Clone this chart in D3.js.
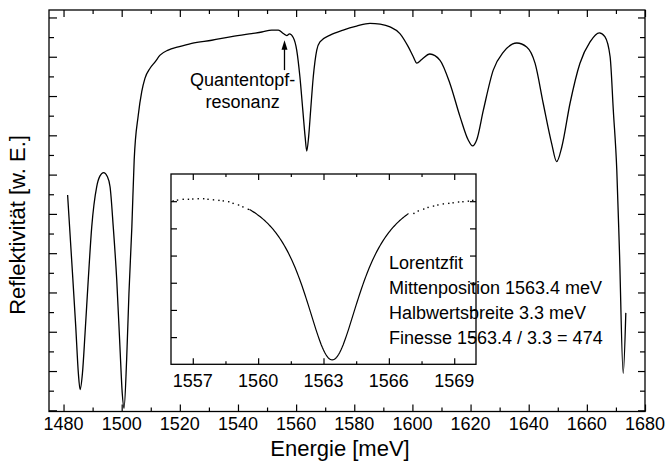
<!DOCTYPE html>
<html>
<head>
<meta charset="utf-8">
<script src="https://cdn.jsdelivr.net/npm/d3@7"></script>
<style>
  html, body { margin: 0; padding: 0; background: #fff; }
  svg { display: block; }
  text { font-family: "Liberation Sans", Arial, Helvetica, sans-serif; fill: #000; }
</style>
</head>
<body>
<svg id="chart" width="669" height="468"></svg>
<script>
// Reflectivity spectrum of the microcavity sample (arbitrary units)
const energy = [1481.4, 1482.8, 1484.2, 1485.1, 1485.7, 1486.5, 1487.4, 1488.5, 1489.7, 1491.4,
  1492.5, 1493.8, 1495.0, 1496.0, 1497.1, 1498.3, 1499.4, 1500.2, 1500.8, 1501.7,
  1502.5, 1503.5, 1504.3, 1505.7, 1506.9, 1508.0, 1509.7, 1511.5, 1513.2, 1516.0,
  1519.5, 1524.1, 1531.0, 1537.8, 1544.7, 1548.2, 1551.6, 1553.9, 1555.6, 1556.8,
  1557.7, 1559.0, 1560.2, 1561.3, 1562.3, 1563.1, 1563.65, 1564.3, 1565.0, 1565.9,
  1567.1, 1568.2, 1571.7, 1576.2, 1580.8, 1585.4, 1588.9, 1592.3, 1595.7, 1598.6,
  1600.3, 1601.5, 1603.2, 1606.0, 1609.5, 1612.9, 1616.4, 1619.2, 1620.7, 1622.1,
  1624.4, 1627.8, 1631.3, 1635.9, 1639.3, 1642.2, 1645.0, 1647.9, 1649.6, 1651.4,
  1654.2, 1657.6, 1661.1, 1664.3, 1666.2, 1668.0, 1669.1, 1670.3, 1671.2, 1672.5, 1673.4];
const reflectivity = [5.48, 3.82, 2.13, 0.94, 0.53, 0.94, 1.96, 3.32, 4.67, 5.69,
  5.96, 6.05, 5.96, 5.69, 4.67, 3.32, 1.62, 0.43, 0.05, 1.28,
  2.98, 4.67, 6.37, 7.51, 8.11, 8.45, 8.70, 8.87, 9.04, 9.17,
  9.25, 9.34, 9.42, 9.51, 9.59, 9.63, 9.68, 9.68, 9.59, 9.54,
  9.58, 9.49, 9.17, 8.49, 7.64, 6.96, 6.60, 6.96, 7.64, 8.49,
  9.17, 9.38, 9.55, 9.68, 9.78, 9.85, 9.83, 9.76, 9.59, 9.25,
  9.00, 8.84, 8.93, 9.07, 8.91, 8.32, 7.47, 6.88, 6.73, 6.88,
  7.64, 8.66, 9.12, 9.35, 9.25, 8.83, 7.81, 6.79, 6.33, 6.71,
  7.81, 8.83, 9.38, 9.61, 9.51, 9.00, 7.64, 6.11, 4.08, 0.94, 2.48];

// Axis ticks of the main panel
const xMajorTicks = [1480, 1500, 1520, 1540, 1560, 1580, 1600, 1620, 1640, 1660, 1680];
const xMinorTicks = [1490, 1510, 1530, 1550, 1570, 1590, 1610, 1630, 1650, 1670];
const yMajorTicks = [0, 1, 2, 3, 4, 5, 6, 7, 8, 9, 10];
const yMinorTicks = [0.5, 1.5, 2.5, 3.5, 4.5, 5.5, 6.5, 7.5, 8.5, 9.5];

// Measured points around the cavity mode (inset), outside the fit window
const insetEnergy = [1556.1, 1556.3, 1556.56, 1556.8, 1557.0, 1557.25, 1557.5, 1557.7, 1557.95, 1558.2,
  1558.4, 1558.65, 1558.85, 1559.1, 1559.3, 1559.55,
  1567.15, 1567.35, 1567.6, 1567.8, 1568.05, 1568.25, 1568.5, 1568.75, 1568.95, 1569.2,
  1569.4, 1569.65, 1569.85];
const insetReflectivity = [6.01, 6.04, 6.07, 6.07, 6.08, 6.09, 6.09, 6.07, 6.05, 6.03,
  6.01, 5.98, 5.92, 5.86, 5.79, 5.70,
  5.55, 5.64, 5.71, 5.77, 5.82, 5.86, 5.90, 5.92, 5.94, 5.97,
  5.98, 6.00, 6.03];
const insetMajorTicks = [1557, 1560, 1563, 1566, 1569];
const insetMinorTicks = [1558.5, 1561.5, 1564.5, 1567.5];
const insetYTicks = [1, 2, 3, 4, 5, 6];

// Lorentz fit of the cavity dip
const fitCenter = 1563.4;     // meV
const fitFwhm = 3.3;          // meV
const fitBaseline = 6.74;
const fitDepth = 6.58;
const fitRange = [1559.6, 1566.9];

const svg = d3.select("#chart");

// ---------- main panel ----------
const x = d3.scaleLinear().domain([1475, 1680]).range([49, 645]);
const y = d3.scaleLinear().domain([-0.03, 10.19]).range([411.5, 10]);
const plotTop = y.range()[1], plotBottom = y.range()[0];
const plotLeft = x.range()[0], plotRight = x.range()[1];

function tickAxis(g, axisFn, scale, values, size) {
  g.call(axisFn(scale).tickValues(values).tickSize(-size).tickSizeOuter(0).tickFormat(""));
  g.select(".domain").remove();
  g.selectAll("line").attr("stroke", "#000").attr("stroke-width", 1.2);
  g.selectAll("text").remove();
}

const axes = svg.append("g");
tickAxis(axes.append("g").attr("transform", `translate(0,${plotBottom})`), d3.axisBottom, x, xMajorTicks, 7);
tickAxis(axes.append("g").attr("transform", `translate(0,${plotBottom})`), d3.axisBottom, x, xMinorTicks, 4);
tickAxis(axes.append("g").attr("transform", `translate(0,${plotTop})`), d3.axisTop, x, xMajorTicks, 7);
tickAxis(axes.append("g").attr("transform", `translate(0,${plotTop})`), d3.axisTop, x, xMinorTicks, 4);
tickAxis(axes.append("g").attr("transform", `translate(${plotLeft},0)`), d3.axisLeft, y, yMajorTicks, 8);
tickAxis(axes.append("g").attr("transform", `translate(${plotLeft},0)`), d3.axisLeft, y, yMinorTicks, 5);
tickAxis(axes.append("g").attr("transform", `translate(${plotRight},0)`), d3.axisRight, y, yMajorTicks, 7);
tickAxis(axes.append("g").attr("transform", `translate(${plotRight},0)`), d3.axisRight, y, yMinorTicks, 5);

svg.append("rect")
  .attr("x", plotLeft).attr("y", plotTop)
  .attr("width", plotRight - plotLeft).attr("height", plotBottom - plotTop)
  .attr("fill", "none").attr("stroke", "#000").attr("stroke-width", 1.3);

svg.append("g").selectAll("text")
  .data(xMajorTicks).join("text")
  .attr("x", d => x(d)).attr("y", 429.5)
  .attr("text-anchor", "middle")
  .attr("font-size", 18)
  .text(d => d);

svg.append("text")
  .attr("x", 340).attr("y", 455.5)
  .attr("text-anchor", "middle")
  .attr("font-size", 22)
  .text("Energie [meV]");

svg.append("text")
  .attr("transform", "translate(25,225) rotate(-90)")
  .attr("text-anchor", "middle")
  .attr("font-size", 22)
  .text("Reflektivität [w. E.]");

const spectrum = energy.map((e, i) => [e, reflectivity[i]]);
svg.append("path")
  .datum(spectrum)
  .attr("fill", "none").attr("stroke", "#000").attr("stroke-width", 1.3)
  .attr("stroke-linejoin", "round")
  .attr("d", d3.line().x(d => x(d[0])).y(d => y(d[1])).curve(d3.curveMonotoneX));

// quantum well resonance marker
const qwEnergy = 1556.0;
svg.append("line")
  .attr("x1", x(qwEnergy)).attr("x2", x(qwEnergy))
  .attr("y1", y(8.66)).attr("y2", y(9.2))
  .attr("stroke", "#000").attr("stroke-width", 1.3);
svg.append("path")
  .attr("d", `M${x(qwEnergy)},${y(9.42)} L${x(qwEnergy) - 3},${y(9.18)} L${x(qwEnergy) + 3},${y(9.18)} Z`)
  .attr("fill", "#000");
const qwLabel = svg.append("text")
  .attr("text-anchor", "middle")
  .attr("font-size", 18);
qwLabel.append("tspan").attr("x", x(1541.6)).attr("y", y(8.25)).text("Quantentopf-");
qwLabel.append("tspan").attr("x", x(1541.6)).attr("y", y(7.69)).text("resonanz");

// ---------- inset ----------
const ix = d3.scaleLinear().domain([1556, 1570]).range([171, 476]);
const iy = d3.scaleLinear().domain([0, 7]).range([364.3, 174]);
const iTop = iy.range()[1], iBottom = iy.range()[0];
const iLeft = ix.range()[0], iRight = ix.range()[1];

const inset = svg.append("g");
inset.append("rect")
  .attr("x", iLeft).attr("y", iTop)
  .attr("width", iRight - iLeft).attr("height", iBottom - iTop)
  .attr("fill", "#fff");

tickAxis(inset.append("g").attr("transform", `translate(0,${iBottom})`), d3.axisBottom, ix, insetMajorTicks, 6);
tickAxis(inset.append("g").attr("transform", `translate(0,${iBottom})`), d3.axisBottom, ix, insetMinorTicks, 3);
tickAxis(inset.append("g").attr("transform", `translate(0,${iTop})`), d3.axisTop, ix, insetMajorTicks, 6);
tickAxis(inset.append("g").attr("transform", `translate(0,${iTop})`), d3.axisTop, ix, insetMinorTicks, 3);
tickAxis(inset.append("g").attr("transform", `translate(${iLeft},0)`), d3.axisLeft, iy, insetYTicks, 6);
tickAxis(inset.append("g").attr("transform", `translate(${iRight},0)`), d3.axisRight, iy, insetYTicks, 6);

inset.append("rect")
  .attr("x", iLeft).attr("y", iTop)
  .attr("width", iRight - iLeft).attr("height", iBottom - iTop)
  .attr("fill", "none").attr("stroke", "#000").attr("stroke-width", 1.3);

inset.append("g").selectAll("text")
  .data(insetMajorTicks).join("text")
  .attr("x", d => ix(d)).attr("y", 387)
  .attr("text-anchor", "middle")
  .attr("font-size", 18)
  .text(d => d);

// measured points
inset.append("g").selectAll("rect")
  .data(insetEnergy.map((e, i) => [e, insetReflectivity[i]])).join("rect")
  .attr("x", d => ix(d[0]) - 0.7).attr("y", d => iy(d[1]) - 0.7)
  .attr("width", 1.4).attr("height", 1.4)
  .attr("fill", "#000");

// Lorentz fit curve
const lorentz = e => fitBaseline - fitDepth / (1 + Math.pow((e - fitCenter) / (fitFwhm / 2), 2));
const fitEnergies = d3.range(fitRange[0], fitRange[1] + 1e-9, 0.05);
inset.append("path")
  .datum(fitEnergies)
  .attr("fill", "none").attr("stroke", "#000").attr("stroke-width", 1.2)
  .attr("d", d3.line().x(e => ix(e)).y(e => iy(lorentz(e))));

const finesse = Math.round(fitCenter / fitFwhm);
const fitText = [
  "Lorentzfit",
  `Mittenposition ${fitCenter.toFixed(1)} meV`,
  `Halbwertsbreite ${fitFwhm.toFixed(1)} meV`,
  `Finesse ${fitCenter.toFixed(1)} / ${fitFwhm.toFixed(1)} = ${finesse}`
];
svg.append("g").selectAll("text")
  .data(fitText).join("text")
  .attr("x", 389)
  .attr("y", (d, i) => 268.5 + i * 25)
  .attr("font-size", 18)
  .text(d => d);
</script>
</body>
</html>
